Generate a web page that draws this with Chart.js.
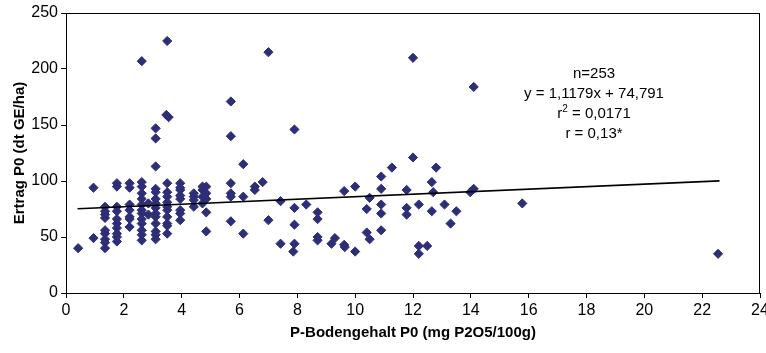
<!DOCTYPE html>
<html>
<head>
<meta charset="utf-8">
<script src="https://cdn.jsdelivr.net/npm/chart.js@4"></script>
<style>
  body { margin: 0; background: #fff; }
  canvas { display: block; }
</style>
</head>
<body>
<canvas id="chart" width="766" height="353"></canvas>
<script>
// P-Bodengehalt (x) and Ertrag (y)
var pX = [
    0.42, 0.95, 0.95,
    1.35, 1.35, 1.35, 1.35, 1.35, 1.35, 1.35, 1.35, 1.35,
    1.76, 1.76, 1.76, 1.76, 1.76, 1.76, 1.76, 1.76, 1.76, 1.76,
    2.2, 2.2, 2.2, 2.2, 2.2, 2.2, 2.2,
    2.62, 2.62, 2.62, 2.62, 2.62, 2.62, 2.62, 2.62, 2.62, 2.62, 2.62, 2.62, 2.62,
    2.85, 2.85,
    3.1, 3.1, 3.1, 3.1, 3.1, 3.1, 3.1, 3.1, 3.1, 3.1, 3.1, 3.1, 3.1, 3.1,
    3.5, 3.47, 3.55, 3.5, 3.5, 3.5, 3.5, 3.5, 3.5, 3.5, 3.5, 3.5, 3.5,
    3.95, 3.95, 3.95, 3.95, 3.95, 3.95, 3.95, 3.95,
    4.42, 4.42, 4.42, 4.42,
    4.72, 4.72, 4.72, 4.72,
    4.85, 4.85, 4.85, 4.85, 4.85,
    5.7, 5.7, 5.7, 5.7, 5.7, 5.7,
    6.13, 6.13, 6.13,
    6.53, 6.53, 6.8,
    7.0, 7.0,
    7.42, 7.42,
    7.9, 7.9, 7.9, 7.9, 7.86,
    8.31,
    8.7, 8.7, 8.7, 8.7,
    9.18, 9.3,
    9.62, 9.62, 9.64,
    10.0, 10.0,
    10.4, 10.4, 10.5, 10.5,
    10.9, 10.9, 10.9, 10.9, 10.9,
    11.27,
    11.78, 11.78, 11.78,
    12.0, 12.0,
    12.2, 12.2, 12.2,
    12.49,
    12.65, 12.65, 12.7,
    12.8, 13.09, 13.3, 13.5,
    13.98, 14.1, 14.1,
    15.78, 22.55
];
var pY = [
    40, 94, 49,
    77, 73, 70, 67, 56, 53, 48, 45, 40,
    98, 95, 77, 73, 66, 62, 58, 53, 50, 46,
    98, 94, 79, 74, 68, 66, 59,
    99, 95, 89, 84, 79, 74, 71, 66, 62, 56, 52, 47, 207,
    80, 70,
    147, 138, 113, 93, 90, 84, 80, 76, 71, 68, 62, 55, 52, 48,
    225, 159, 157, 98, 90, 86, 81, 77, 74, 68, 62, 60, 53,
    98, 94, 92, 87, 84, 74, 71, 65,
    89, 86, 83, 77,
    95, 92, 86, 80,
    95, 89, 84, 72, 55,
    171, 140, 98, 89, 86, 64,
    115, 86, 53,
    95, 92, 99,
    215, 65,
    82, 44,
    146, 76, 61, 44, 37,
    79,
    72, 66, 50, 47,
    44, 49,
    91, 43, 41,
    95, 37,
    75, 54, 85, 48,
    104, 93, 79, 71, 56,
    112,
    92, 76, 70,
    210, 121,
    79, 42, 35,
    42,
    99, 73, 90,
    112, 79, 62, 73,
    90, 93, 184,
    80, 35
];

// trend line end points
var trendX = [0.4, 22.6];
var trendY = [75.2, 100.1];

var statLines = ['n=253', 'y = 1,1179x + 74,791', 'r2 = 0,0171', 'r = 0,13*'];

var points = pX.map(function (x, i) { return { x: x, y: pY[i] }; });
var trend = trendX.map(function (x, i) { return { x: x, y: trendY[i] }; });

var font = "'Liberation Sans', Arial, sans-serif";

var framePlugin = {
    id: 'frame',
    afterDraw: function (chart) {
        var ctx = chart.ctx;
        var a = chart.chartArea;
        ctx.save();
        ctx.strokeStyle = '#000';
        ctx.lineWidth = 1;
        ctx.strokeRect(a.left + 0.5, a.top + 0.5, a.right - a.left - 1, a.bottom - a.top);

        // statistics text
        ctx.fillStyle = '#000';
        ctx.font = '15px ' + font;
        ctx.textAlign = 'center';
        ctx.textBaseline = 'middle';
        var cx = 594;
        var y0 = 74;
        for (var i = 0; i < statLines.length; i++) {
            var t = statLines[i];
            var yy = y0 + i * 20;
            if (i === 2) {
                var rest = t.substring(2);
                var w1 = ctx.measureText('r').width;
                ctx.font = '10px ' + font;
                var w2 = ctx.measureText('2').width;
                ctx.font = '15px ' + font;
                var w3 = ctx.measureText(rest).width;
                var sx = cx - (w1 + w2 + w3) / 2;
                ctx.textAlign = 'left';
                ctx.fillText('r', sx, yy);
                ctx.font = '10px ' + font;
                ctx.fillText('2', sx + w1, yy - 5);
                ctx.font = '15px ' + font;
                ctx.fillText(rest, sx + w1 + w2, yy);
                ctx.textAlign = 'center';
            } else {
                ctx.fillText(t, cx, yy);
            }
        }
        ctx.restore();
    }
};

new Chart(document.getElementById('chart'), {
    type: 'scatter',
    data: {
        datasets: [
            {
                label: 'Ertrag',
                data: points,
                pointStyle: 'rectRot',
                pointRadius: 4.6,
                pointBackgroundColor: '#2E2E78',
                pointBorderColor: '#2E2E78',
                pointBorderWidth: 1,
                order: 2
            },
            {
                type: 'line',
                label: 'Trend',
                data: trend,
                borderColor: '#000',
                borderWidth: 1.6,
                pointRadius: 0,
                fill: false,
                order: 1
            }
        ]
    },
    options: {
        responsive: false,
        animation: false,
        events: [],
        layout: { padding: { top: 13, right: 6, left: 0, bottom: 0 } },
        plugins: {
            legend: { display: false },
            tooltip: { enabled: false }
        },
        scales: {
            x: {
                type: 'linear',
                min: 0,
                max: 24,
                ticks: { stepSize: 2, color: '#000', font: { family: font, size: 16 }, padding: 3, maxRotation: 0 },
                grid: { drawOnChartArea: false, drawTicks: true, tickLength: 5, color: '#000' },
                border: { color: '#000', width: 1 },
                title: {
                    display: true,
                    text: 'P-Bodengehalt P0 (mg P2O5/100g)',
                    color: '#000',
                    font: { family: font, size: 15, weight: 'bold' },
                    padding: { top: 11, bottom: 11 }
                },
                afterFit: function (s) { s.height = 60; s.paddingLeft = 0; s.paddingRight = 0; }
            },
            y: {
                min: 0,
                max: 250,
                ticks: { stepSize: 50, color: '#000', font: { family: font, size: 16 }, padding: 3 },
                grid: { drawOnChartArea: false, drawTicks: true, tickLength: 5, color: '#000' },
                border: { color: '#000', width: 1 },
                title: {
                    display: true,
                    text: 'Ertrag P0 (dt GE/ha)',
                    color: '#000',
                    font: { family: font, size: 15, weight: 'bold' },
                    padding: { top: 11, bottom: 11 }
                },
                afterFit: function (s) { s.width = 66; s.paddingTop = 0; s.paddingBottom = 0; }
            }
        }
    },
    plugins: [framePlugin]
});
</script>
</body>
</html>
